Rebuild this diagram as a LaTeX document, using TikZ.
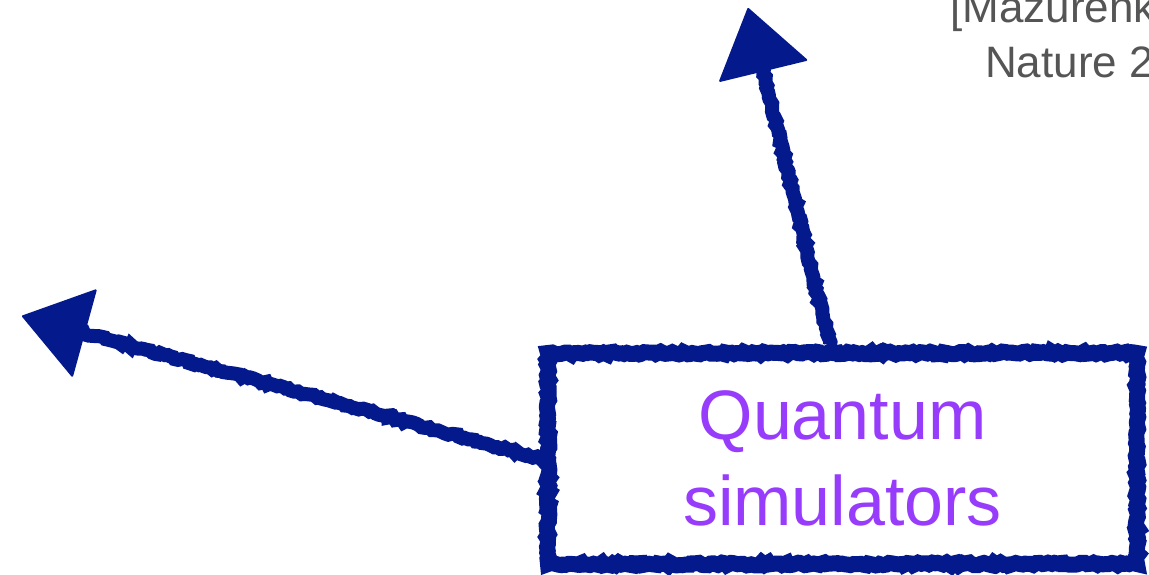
\documentclass[tikz,border=0pt]{standalone}
\usepackage{fontspec}
\newfontfamily\qfont{Liberation Sans}
\usetikzlibrary{arrows.meta,decorations.pathmorphing,calc}
\definecolor{qblue}{RGB}{4,26,140}
\definecolor{qpurple}{RGB}{152,60,252}
\definecolor{qgray}{RGB}{85,85,85}
\tikzset{
  rough/.style={decorate,decoration={random steps,segment length=3pt,amplitude=1.4pt}},
  qbox/.style={draw=qblue,line width=16pt,rough,minimum width=589pt,minimum height=211pt,
    inner sep=0pt,align=center,text=qpurple,font=\qfont\fontsize{70}{86}\selectfont},
  qshaft/.style={draw=qblue,line width=14pt,rough},
  qhead/.style={draw=qblue,fill=qblue,line width=1pt,
    -{Triangle[length=66pt 0 0,width=92pt 0 0,line width=2pt 0 0,round]}},
  reftext/.style={anchor=base west,inner sep=0pt,text=qgray,font=\qfont\fontsize{44}{52}\selectfont}
}
\begin{document}
\begin{tikzpicture}[x=1pt,y=-1pt]
\clip (0,0) rectangle (1149,574);
\fill[white] (0,0) rectangle (1149,574);
\node[reftext] (ref1) at (950,22) {[Mazurenk};
\node[reftext] (ref2) at (985,77) {Nature 2};
\node[qbox] (qs) at (842.5,458.5) {Quantum\\simulators};
\coordinate (tipA) at (22,316);
\coordinate (tipB) at (748,8);
\coordinate (startB) at (830,345);
\coordinate (endA) at ($(tipA)!45pt!(qs.west)$);
\coordinate (endB) at ($(tipB)!45pt!(startB)$);
\draw[qshaft] (qs.west) -- (endA);
\draw[qshaft] (startB) -- (endB);
\draw[qhead] (qs.west) -- (tipA);
\draw[qhead] (startB) -- (tipB);
\end{tikzpicture}
\end{document}
